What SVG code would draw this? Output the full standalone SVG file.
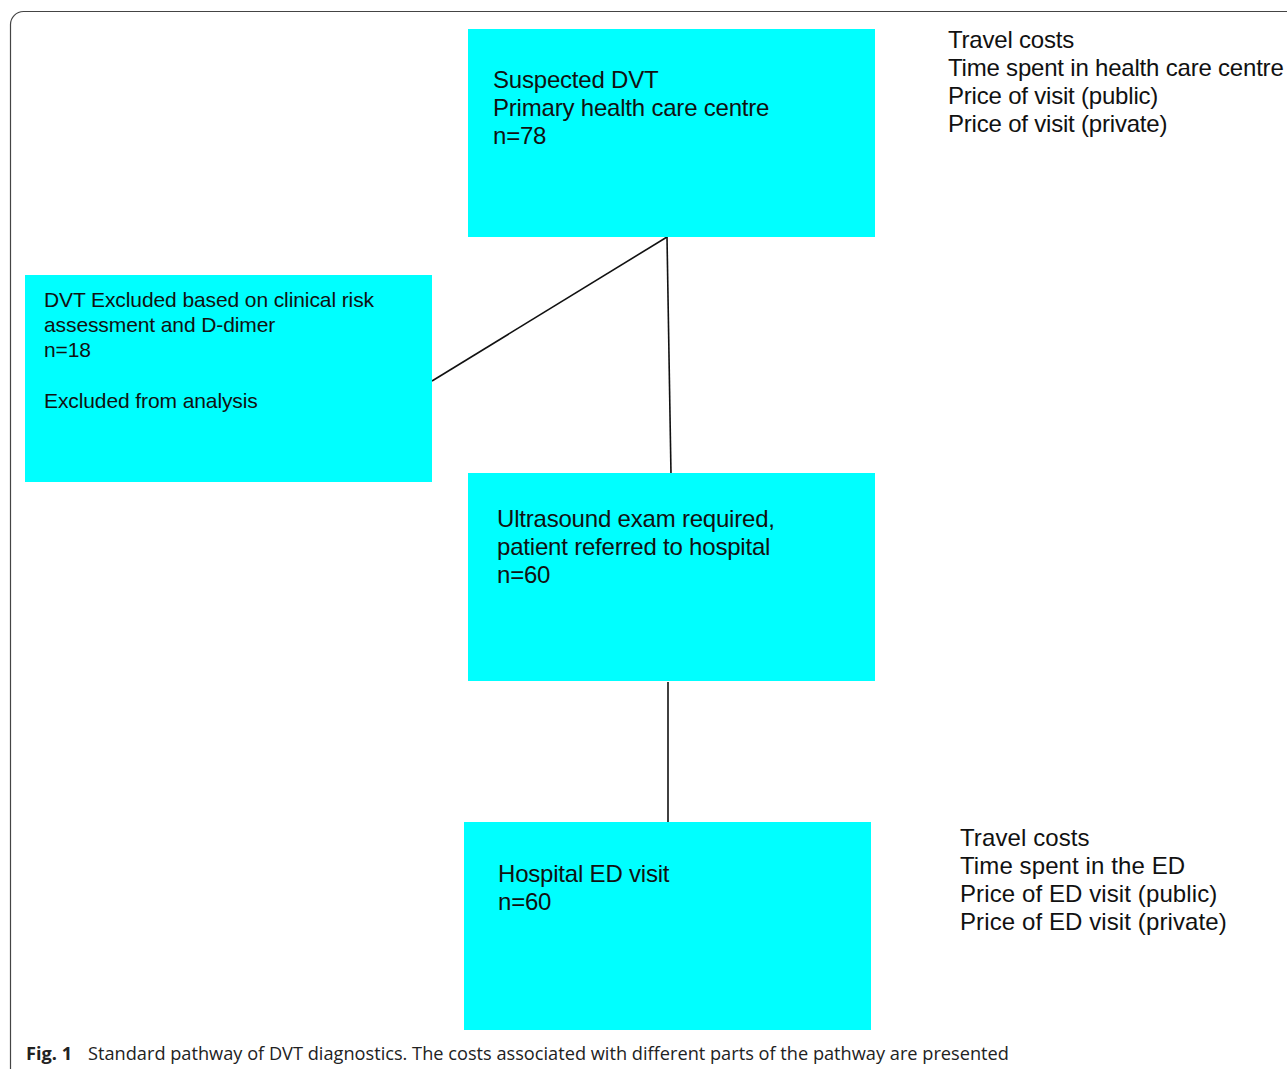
<svg xmlns="http://www.w3.org/2000/svg" width="1287" height="1069" viewBox="0 0 1287 1069">
<style>
.box{fill:#00FFFF;}
.t{font-family:"Liberation Sans",Arial,sans-serif;font-size:24px;fill:#111;letter-spacing:-0.2px;}
.s{font-family:"Liberation Sans",Arial,sans-serif;font-size:21px;fill:#111;letter-spacing:-0.1px;}
.c{stroke:#111;stroke-width:1.6;fill:none;}
.cap{font-family:"Open Sans","Noto Sans",sans-serif;font-size:18.2px;fill:#222;}
</style>
<rect width="1287" height="1069" fill="#fff"/>
<rect x="10.5" y="11.5" width="1320" height="1100" rx="13" fill="none" stroke="#444" stroke-width="1.2"/>
<g id="connectors">
<line class="c" x1="667" y1="237" x2="432" y2="381"/>
<line class="c" x1="667" y1="237" x2="671" y2="474"/>
<line class="c" x1="668" y1="682" x2="668" y2="822"/>
</g>
<g id="n1">
<rect class="box" x="468" y="29" width="407" height="208"/>
<text class="t" x="493" y="88">Suspected DVT</text>
<text class="t" x="493" y="116">Primary health care centre</text>
<text class="t" x="493" y="144">n=78</text>
</g>
<g id="n2">
<rect class="box" x="25" y="275" width="407" height="207"/>
<text class="s" x="44" y="307">DVT Excluded based on clinical risk</text>
<text class="s" x="44" y="332">assessment and D-dimer</text>
<text class="s" x="44" y="357">n=18</text>
<text class="s" x="44" y="408">Excluded from analysis</text>
</g>
<g id="n3">
<rect class="box" x="468" y="473" width="407" height="208"/>
<text class="t" x="497" y="527">Ultrasound exam required,</text>
<text class="t" x="497" y="555">patient referred to hospital</text>
<text class="t" x="497" y="583">n=60</text>
</g>
<g id="n4">
<rect class="box" x="464" y="822" width="407" height="208"/>
<text class="t" x="498" y="882">Hospital ED visit</text>
<text class="t" x="498" y="910">n=60</text>
</g>
<g id="costs1">
<text class="t" x="948" y="48">Travel costs</text>
<text class="t" x="948" y="76">Time spent in health care centre</text>
<text class="t" x="948" y="104">Price of visit (public)</text>
<text class="t" x="948" y="132">Price of visit (private)</text>
</g>
<g id="costs2">
<text class="t" x="960" y="846" style="letter-spacing:0.1px">Travel costs</text>
<text class="t" x="960" y="874" style="letter-spacing:0.1px">Time spent in the ED</text>
<text class="t" x="960" y="902" style="letter-spacing:0.1px">Price of ED visit (public)</text>
<text class="t" x="960" y="930" style="letter-spacing:0.1px">Price of ED visit (private)</text>
</g>
<text class="cap" x="26" y="1060" font-weight="bold">Fig. 1</text>
<text class="cap" x="88" y="1060">Standard pathway of DVT diagnostics. The costs associated with different parts of the pathway are presented</text>
</svg>
